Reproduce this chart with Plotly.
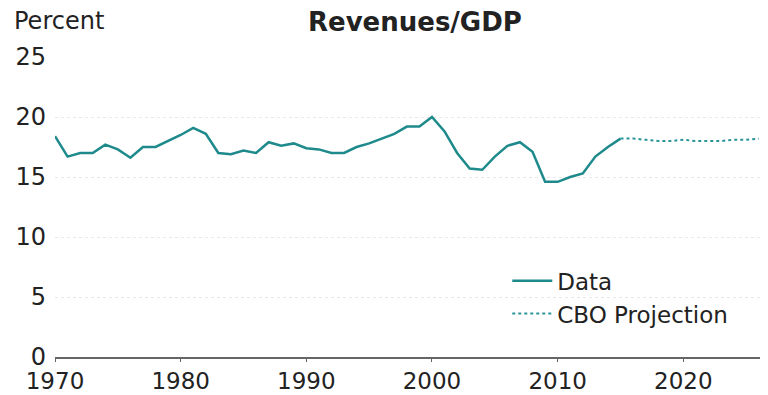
import plotly.graph_objects as go

years_data = list(range(1970, 2016))
revenues_data = [18.4, 16.7, 17.0, 17.0, 17.7, 17.3, 16.6, 17.5, 17.5, 18.0,
                 18.5, 19.1, 18.6, 17.0, 16.9, 17.2, 17.0, 17.9, 17.6, 17.8,
                 17.4, 17.3, 17.0, 17.0, 17.5, 17.8, 18.2, 18.6, 19.2, 19.2,
                 20.0, 18.8, 17.0, 15.7, 15.6, 16.7, 17.6, 17.9, 17.1, 14.6,
                 14.6, 15.0, 15.3, 16.7, 17.5, 18.2]
years_proj = list(range(2015, 2027))
revenues_proj = [18.2, 18.2, 18.1, 18.0, 18.0, 18.1, 18.0, 18.0, 18.0, 18.1, 18.1, 18.2]
x_ticks = [1970, 1980, 1990, 2000, 2010, 2020]
y_ticks = [0, 5, 10, 15, 20, 25]

font_family = "DejaVu Sans, Verdana, sans-serif"
teal = "#1f8a8c"

fig = go.Figure()
fig.add_trace(go.Scatter(x=years_data, y=revenues_data, mode="lines", name="Data",
                         line=dict(color=teal, width=2.5)))
fig.add_trace(go.Scatter(x=years_proj, y=revenues_proj, mode="lines", name="CBO Projection",
                         line=dict(color="#2a9598", width=2, dash="dot")))

fig.update_layout(
    width=760, height=387,
    margin=dict(l=47, r=3, t=49, b=38),
    paper_bgcolor="white", plot_bgcolor="white",
    font=dict(family=font_family, color="#222", size=22),
    showlegend=True,
    legend=dict(x=0.637, y=0.326, xanchor="left", yanchor="top",
                bgcolor="rgba(0,0,0,0)", font=dict(size=23), tracegroupgap=0,
                itemwidth=40),
    xaxis=dict(range=[1970, 2026.5], tickvals=x_ticks, showgrid=False,
               showline=True, linecolor="#666", linewidth=1.5,
               ticks="outside", ticklen=3, tickcolor="#666",
               tickfont=dict(size=23), zeroline=False, automargin=False),
    yaxis=dict(range=[0, 25], tickvals=y_ticks, showgrid=True,
               gridcolor="#e8e8e8", gridwidth=1, griddash="dot",
               showline=False, zeroline=False, ticks="",
               ticklabelstandoff=8, tickfont=dict(size=24), automargin=False),
    annotations=[
        dict(text="Percent", x=0, y=1, xref="paper", yref="paper", xshift=-43, yshift=36,
             xanchor="left", yanchor="middle", showarrow=False, font=dict(size=24)),
        dict(text="<b>Revenues/GDP</b>", x=0.507, y=1, xref="paper", yref="paper", yshift=35,
             xanchor="center", yanchor="middle", showarrow=False, font=dict(size=26)),
    ],
)

fig.write_html("out.html")
